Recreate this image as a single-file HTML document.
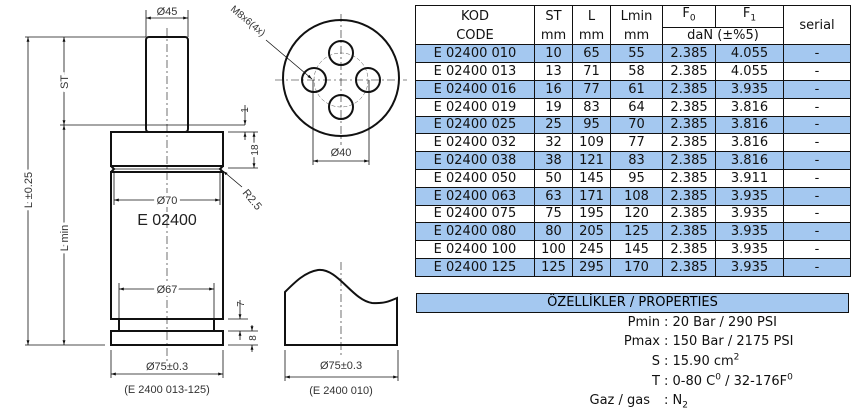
<!DOCTYPE html>
<html><head><meta charset="utf-8"><style>
body{margin:0;background:#fff;width:855px;height:413px;overflow:hidden;position:relative;font-family:"DejaVu Sans","Liberation Sans",sans-serif;}
svg{position:absolute;left:0;top:0}
table{position:absolute;left:415px;top:5px;border-collapse:collapse;font-size:13px;color:#111}
td{border:1px solid #111;padding:0;text-align:center;line-height:15px}
tr{height:17.8px}
tr.b td{background:#a4c8f0}
.props{position:absolute;left:416px;top:293px;width:431px;height:18px;border:1px solid #111;background:#a4c8f0;font-size:13px;text-align:center;line-height:18px}
.p{position:absolute;font-size:13px;color:#111;white-space:nowrap}
</style></head><body>
<svg width="855" height="413" font-family="Liberation Sans, sans-serif" font-size="11" fill="none" stroke="#111">
<defs><marker id="a" viewBox="0 0 10 10" refX="10" refY="5" markerWidth="6" markerHeight="6" orient="auto-start-reverse"><path d="M0,2 L10,5 L0,8z" fill="#111" stroke="none"/></marker></defs>
<g stroke-width="2">
<rect x="146" y="37" width="42" height="95" rx="3"/>
<rect x="111" y="132" width="112" height="34"/>
<path d="M111,166 L114,169 L111,172 M223,166 L220,169 L223,172"/>
<rect x="111" y="172" width="112" height="147"/>
<rect x="119" y="319" width="95" height="12"/>
<rect x="111" y="331" width="112" height="14"/>
</g>
<line x1="114" y1="169" x2="220" y2="169" stroke-width="0.8"/>
<line x1="167" y1="28" x2="167" y2="362" stroke-width="0.6" stroke-dasharray="8,3,2,3"/>
<g stroke-width="0.8">
<line x1="146" y1="10" x2="146" y2="37"/><line x1="188" y1="10" x2="188" y2="37"/>
<line x1="146" y1="18" x2="188" y2="18" marker-start="url(#a)" marker-end="url(#a)"/>
<line x1="25" y1="37" x2="146" y2="37"/><line x1="60" y1="125" x2="245" y2="125"/><line x1="25" y1="345" x2="105" y2="345"/>
<line x1="28" y1="37" x2="28" y2="345" marker-start="url(#a)" marker-end="url(#a)"/>
<line x1="64" y1="37" x2="64" y2="125" marker-start="url(#a)" marker-end="url(#a)"/>
<line x1="64" y1="125" x2="64" y2="345" marker-start="url(#a)" marker-end="url(#a)"/>
<line x1="114" y1="172" x2="114" y2="205"/><line x1="220" y1="172" x2="220" y2="205"/>
<line x1="114" y1="200" x2="220" y2="200" marker-start="url(#a)" marker-end="url(#a)"/>
<line x1="119" y1="283" x2="119" y2="319"/><line x1="214" y1="283" x2="214" y2="319"/>
<line x1="119" y1="289" x2="214" y2="289" marker-start="url(#a)" marker-end="url(#a)"/>
<line x1="111" y1="350" x2="111" y2="378"/><line x1="223" y1="350" x2="223" y2="378"/>
<line x1="111" y1="374" x2="223" y2="374" marker-start="url(#a)" marker-end="url(#a)"/>
<line x1="228" y1="132" x2="258" y2="132"/><line x1="228" y1="168" x2="258" y2="168"/>
<line x1="245" y1="105" x2="245" y2="125" marker-end="url(#a)"/><line x1="245" y1="140" x2="245" y2="132" marker-end="url(#a)"/>
<line x1="254" y1="132" x2="254" y2="168" marker-start="url(#a)" marker-end="url(#a)"/>
<line x1="223" y1="171" x2="242" y2="187" marker-start="url(#a)"/>
<line x1="228" y1="319" x2="248" y2="319"/><line x1="228" y1="331" x2="258" y2="331"/><line x1="228" y1="345" x2="258" y2="345"/>
<line x1="240" y1="300" x2="240" y2="319" marker-end="url(#a)"/><line x1="240" y1="340" x2="240" y2="331" marker-end="url(#a)"/>
<line x1="252" y1="325" x2="252" y2="331" marker-end="url(#a)"/><line x1="252" y1="352" x2="252" y2="345" marker-end="url(#a)"/>
</g>
<g fill="#333" stroke="none">
<text x="167" y="15" text-anchor="middle">Ø45</text>
<text x="167" y="204" text-anchor="middle" style="paint-order:stroke" stroke="#fff" stroke-width="6">Ø70</text>
<text x="167" y="225" text-anchor="middle" font-size="16" fill="#222">E 02400</text>
<text x="167" y="293" text-anchor="middle" style="paint-order:stroke" stroke="#fff" stroke-width="6">Ø67</text>
<text x="167" y="370" text-anchor="middle">Ø75±0.3</text>
<text x="167" y="393" text-anchor="middle">(E 2400 013-125)</text>
<text transform="translate(32,190) rotate(-90)" text-anchor="middle" style="paint-order:stroke" stroke="#fff" stroke-width="6">L ±0.25</text>
<text transform="translate(68,82) rotate(-90)" text-anchor="middle" style="paint-order:stroke" stroke="#fff" stroke-width="6">ST</text>
<text transform="translate(68,238) rotate(-90)" text-anchor="middle" style="paint-order:stroke" stroke="#fff" stroke-width="6">L min</text>
<text transform="translate(248,110) rotate(-90)" text-anchor="middle" font-size="10">1</text>
<text transform="translate(258,150) rotate(-90)" text-anchor="middle" font-size="10" style="paint-order:stroke" stroke="#fff" stroke-width="5">18</text>
<text transform="translate(244,304) rotate(-90)" text-anchor="middle" font-size="10">7</text>
<text transform="translate(256,338) rotate(-90)" text-anchor="middle" font-size="10" style="paint-order:stroke" stroke="#fff" stroke-width="5">8</text>
<text transform="translate(242,193) rotate(50)" font-size="11">R2.5</text>
<text transform="translate(230,10) rotate(40)" font-size="10">M8x6(4x)</text>
<text x="341" y="156" text-anchor="middle">Ø40</text>
<text x="341" y="369" text-anchor="middle">Ø75±0.3</text>
<text x="341" y="394" text-anchor="middle">(E 2400 010)</text>
</g>
<circle cx="341" cy="78" r="58" stroke-width="2"/>
<circle cx="341" cy="80" r="27" stroke-width="0.5" stroke-dasharray="4,2" stroke="#555"/>
<g stroke-width="2"><circle cx="314" cy="80" r="12"/><circle cx="368" cy="80" r="12"/><circle cx="341" cy="53" r="12"/><circle cx="341" cy="107" r="12"/></g>
<g stroke-width="0.6" stroke-dasharray="8,3,2,3"><line x1="275" y1="80" x2="407" y2="80"/><line x1="341" y1="14" x2="341" y2="145"/></g>
<g stroke-width="0.8">
<line x1="266" y1="40" x2="312" y2="79" marker-end="url(#a)"/>
<line x1="313" y1="80" x2="313" y2="165"/><line x1="369" y1="80" x2="369" y2="165"/>
<line x1="313" y1="161" x2="369" y2="161" marker-start="url(#a)" marker-end="url(#a)"/>
<line x1="285" y1="350" x2="285" y2="381"/><line x1="398" y1="350" x2="398" y2="381"/>
<line x1="285" y1="377" x2="398" y2="377" marker-start="url(#a)" marker-end="url(#a)"/>
</g>
<path d="M285,345 L285,292 C295,282 305,272 318,270 C338,268 352,300 372,303 C385,304 392,300 397,298 L397,345 Z" stroke-width="2"/>
<line x1="341" y1="262" x2="341" y2="355" stroke-width="0.6" stroke-dasharray="8,3,2,3"/>
</svg>
<table>
<tr><td style="width:118px;border-bottom:none">KOD</td><td style="width:37px;border-bottom:none">ST</td><td style="width:37px;border-bottom:none">L</td><td style="width:51px;border-bottom:none">Lmin</td><td style="width:52px">F<sub style="font-size:9px">0</sub></td><td style="width:67px">F<sub style="font-size:9px">1</sub></td><td rowspan="2" style="width:66px">serial</td></tr>
<tr><td style="border-top:none">CODE</td><td style="border-top:none">mm</td><td style="border-top:none">mm</td><td style="border-top:none">mm</td><td colspan="2">daN (±%5)</td></tr>
<tr class="b"><td>E 02400 010</td><td>10</td><td>65</td><td>55</td><td>2.385</td><td>4.055</td><td>-</td></tr>
<tr><td>E 02400 013</td><td>13</td><td>71</td><td>58</td><td>2.385</td><td>4.055</td><td>-</td></tr>
<tr class="b"><td>E 02400 016</td><td>16</td><td>77</td><td>61</td><td>2.385</td><td>3.935</td><td>-</td></tr>
<tr><td>E 02400 019</td><td>19</td><td>83</td><td>64</td><td>2.385</td><td>3.816</td><td>-</td></tr>
<tr class="b"><td>E 02400 025</td><td>25</td><td>95</td><td>70</td><td>2.385</td><td>3.816</td><td>-</td></tr>
<tr><td>E 02400 032</td><td>32</td><td>109</td><td>77</td><td>2.385</td><td>3.816</td><td>-</td></tr>
<tr class="b"><td>E 02400 038</td><td>38</td><td>121</td><td>83</td><td>2.385</td><td>3.816</td><td>-</td></tr>
<tr><td>E 02400 050</td><td>50</td><td>145</td><td>95</td><td>2.385</td><td>3.911</td><td>-</td></tr>
<tr class="b"><td>E 02400 063</td><td>63</td><td>171</td><td>108</td><td>2.385</td><td>3.935</td><td>-</td></tr>
<tr><td>E 02400 075</td><td>75</td><td>195</td><td>120</td><td>2.385</td><td>3.935</td><td>-</td></tr>
<tr class="b"><td>E 02400 080</td><td>80</td><td>205</td><td>125</td><td>2.385</td><td>3.935</td><td>-</td></tr>
<tr><td>E 02400 100</td><td>100</td><td>245</td><td>145</td><td>2.385</td><td>3.935</td><td>-</td></tr>
<tr class="b"><td>E 02400 125</td><td>125</td><td>295</td><td>170</td><td>2.385</td><td>3.935</td><td>-</td></tr>
</table>
<div class="props">ÖZELLİKLER / PROPERTIES</div>
<div class="p" style="right:195px;top:315px">Pmin</div><div class="p" style="left:664px;top:315px">: 20 Bar / 290 PSI</div>
<div class="p" style="right:195px;top:334px">Pmax</div><div class="p" style="left:664px;top:334px">: 150 Bar / 2175 PSI</div>
<div class="p" style="right:195px;top:354px">S</div><div class="p" style="left:664px;top:354px">: 15.90 cm<sup style="font-size:9px;line-height:0">2</sup></div>
<div class="p" style="right:195px;top:374px">T</div><div class="p" style="left:664px;top:374px">: 0-80 C<sup style="font-size:9px;line-height:0">0</sup> / 32-176F<sup style="font-size:9px;line-height:0">0</sup></div>
<div class="p" style="right:205px;top:393px">Gaz / gas</div><div class="p" style="left:664px;top:393px">: N<sub style="font-size:9px;line-height:0">2</sub></div>
</body></html>
